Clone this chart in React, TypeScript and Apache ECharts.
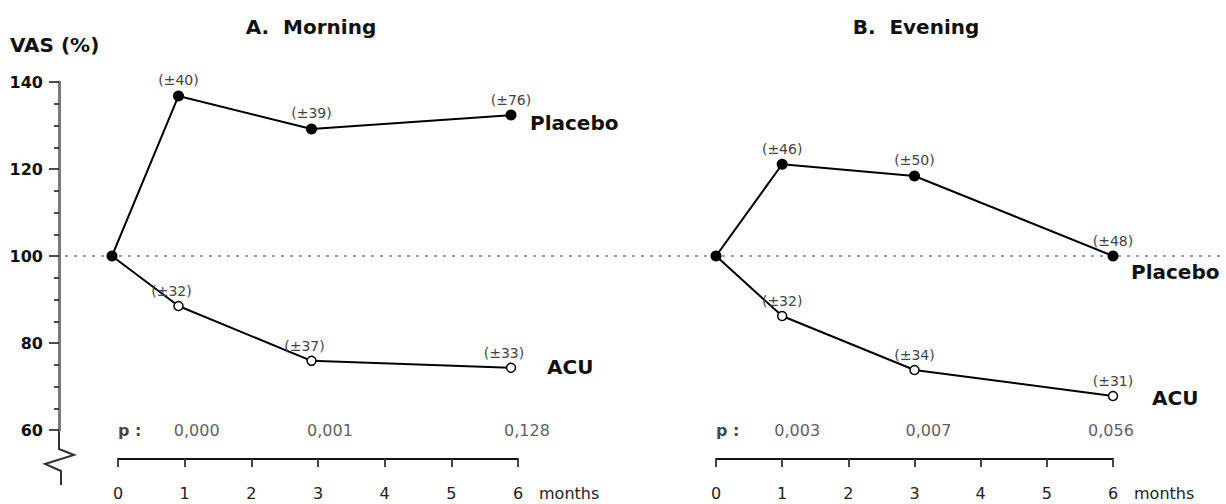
import React, { useEffect, useRef } from "react";
import * as echarts from "echarts";

// ---- data ----
const months = [0, 1, 3, 6];
const morningPlacebo = [100, 136.8, 129.2, 132.4];
const morningAcu = [100, 88.5, 75.9, 74.3];
const eveningPlacebo = [100, 121.1, 118.4, 100];
const eveningAcu = [100, 86.2, 73.8, 67.8];
const morningPlaceboSd = ["", "±40", "±39", "±76"];
const morningAcuSd = ["", "±32", "±37", "±33"];
const eveningPlaceboSd = ["", "±46", "±50", "±48"];
const eveningAcuSd = ["", "±32", "±34", "±31"];
const pMonths = [1, 3, 6];
const pMorning = ["0,000", "0,001", "0,128"];
const pEvening = ["0,003", "0,007", "0,056"];
const yMin = 60;
const yMax = 140;
const yStep = 20;
const xMin = 0;
const xMax = 6;
const referenceLevel = 100;

const FONT = "DejaVu Sans";

export default function App() {
  const ref = useRef<HTMLDivElement>(null);

  useEffect(() => {
    document.body.style.margin = "0";
    const chart = echarts.init(ref.current!, null, { renderer: "svg" });

    const gridTop = 82;
    const gridBottom = 74;

    const hiddenY = (gridIndex: number) => ({
      type: "value",
      gridIndex,
      min: yMin,
      max: yMax,
      interval: yStep,
      show: false,
    });

    const visibleX = (gridIndex: number) => ({
      type: "value",
      gridIndex,
      min: xMin,
      max: xMax,
      interval: 1,
      offset: 29,
      splitLine: { show: false },
      axisLine: { show: true, onZero: false, lineStyle: { color: "#111", width: 2 } },
      axisTick: { show: true, length: 8, lineStyle: { color: "#444", width: 2 } },
      axisLabel: { fontFamily: FONT, fontSize: 16, color: "#222", margin: 26 },
      name: "months",
      nameLocation: "end",
      nameGap: 21,
      nameTextStyle: {
        fontFamily: FONT,
        fontSize: 16,
        color: "#222",
        verticalAlign: "top",
        align: "left",
        padding: [26, 0, 0, 0],
      },
    });

    const sdLabel = (sd: string[], offset: number[]) => ({
      show: true,
      position: "top",
      distance: 3,
      offset,
      fontFamily: FONT,
      fontSize: 14,
      color: "#444",
      formatter: (p: any) => (sd[p.dataIndex] ? `(${sd[p.dataIndex]})` : ""),
    });

    const endLabel = (text: string, offset: number[]) => ({
      show: true,
      formatter: () => text,
      offset,
      fontFamily: FONT,
      fontSize: 20,
      fontWeight: "bold",
      color: "#111",
    });

    const placeboSeries = (
      xi: number,
      vals: number[],
      sd: string[],
      endOffset: number[]
    ) => ({
      type: "line",
      xAxisIndex: xi,
      yAxisIndex: xi,
      data: months.map((m, i) => [m, vals[i]]),
      symbol: "circle",
      symbolSize: 11,
      itemStyle: { color: "#000" },
      lineStyle: { color: "#000", width: 2 },
      label: sdLabel(sd, [0, 0]),
      endLabel: endLabel("Placebo", endOffset),
      z: 5,
    });

    const acuSeries = (
      xi: number,
      vals: number[],
      sd: string[],
      labelOffset: number[],
      endOffset: number[]
    ) => ({
      type: "line",
      xAxisIndex: xi,
      yAxisIndex: xi,
      data: months.map((m, i) =>
        i === 0 ? { value: [m, vals[i]], symbol: "none" } : [m, vals[i]]
      ),
      symbol: "circle",
      symbolSize: 9,
      itemStyle: { color: "#fff", borderColor: "#000", borderWidth: 1.5 },
      lineStyle: { color: "#000", width: 2 },
      label: sdLabel(sd, labelOffset),
      endLabel: endLabel("ACU", endOffset),
      z: 4,
    });

    const pSeries = (xi: number, labels: string[], offsets: number[]) => ({
      type: "scatter",
      xAxisIndex: xi,
      yAxisIndex: xi,
      symbolSize: 0,
      silent: true,
      data: [
        { value: [0, yMin], label: { formatter: "p :", fontWeight: "bold", color: "#111", align: "left", offset: [0, 0] } },
        ...pMonths.map((m, i) => ({
          value: [m, yMin],
          label: { formatter: labels[i], offset: [offsets[i], 0] },
        })),
      ],
      label: {
        show: true,
        position: "inside",
        fontFamily: FONT,
        fontSize: 16,
        color: "#333",
      },
    });

    const option: any = {
      animation: false,
      grid: [
        { left: 112, width: 399, top: gridTop, bottom: gridBottom },
        { left: 118, width: 400, top: gridTop, bottom: gridBottom },
        { left: 716, width: 397, top: gridTop, bottom: gridBottom },
        { left: 65, right: 6, top: gridTop, bottom: gridBottom },
      ],
      xAxis: [
        { type: "value", gridIndex: 0, min: xMin, max: xMax, show: false },
        visibleX(1),
        visibleX(2),
        { type: "value", gridIndex: 3, min: 0, max: 1, show: false },
      ],
      yAxis: [
        {
          type: "value",
          gridIndex: 0,
          min: yMin,
          max: yMax,
          interval: yStep,
          offset: 53,
          splitLine: { show: false },
          axisLine: { show: true, onZero: false, lineStyle: { color: "#7a7a7a", width: 3 } },
          axisTick: { show: true, length: 10, lineStyle: { color: "#111", width: 1.5 } },
          minorTick: { show: true, splitNumber: 4, length: 5, lineStyle: { color: "#111", width: 1.5 } },
          axisLabel: {
            fontFamily: FONT,
            fontSize: 16,
            fontWeight: "bold",
            color: "#111",
            margin: 16,
          },
        },
        hiddenY(1),
        hiddenY(2),
        hiddenY(3),
      ],
      series: [
        {
          type: "line",
          xAxisIndex: 3,
          yAxisIndex: 3,
          data: [
            [0, referenceLevel],
            [1, referenceLevel],
          ],
          symbol: "none",
          silent: true,
          lineStyle: { color: "#444", width: 1.2, type: [3, 6] },
          z: 1,
        },
        placeboSeries(0, morningPlacebo, morningPlaceboSd, [11, 8]),
        acuSeries(0, morningAcu, morningAcuSd, [-7, 0], [28, -1]),
        placeboSeries(2, eveningPlacebo, eveningPlaceboSd, [10, 16]),
        acuSeries(2, eveningAcu, eveningAcuSd, [0, 0], [31, 2]),
        pSeries(1, pMorning, [12, 12, 9]),
        pSeries(2, pEvening, [15, 14, -2]),
      ],
      graphic: [
        {
          type: "text",
          x: 10,
          y: 45,
          style: {
            text: "VAS (%)",
            fontFamily: FONT,
            fontSize: 20,
            fontWeight: "bold",
            fill: "#111",
            textVerticalAlign: "middle",
          },
        },
        {
          type: "text",
          x: 311,
          y: 27,
          style: {
            text: "A.  Morning",
            fontFamily: FONT,
            fontSize: 20,
            fontWeight: "bold",
            fill: "#111",
            textAlign: "center",
            textVerticalAlign: "middle",
          },
        },
        {
          type: "text",
          x: 916,
          y: 27,
          style: {
            text: "B.  Evening",
            fontFamily: FONT,
            fontSize: 20,
            fontWeight: "bold",
            fill: "#111",
            textAlign: "center",
            textVerticalAlign: "middle",
          },
        },
      ],
    };

    chart.setOption(option);

    // axis break (zigzag) below the y axis
    const y0 = chart.convertToPixel({ yAxisIndex: 0 }, yMin) as number;
    const ax = 59;
    chart.setOption({
      graphic: [
        ...option.graphic,
        {
          type: "polyline",
          shape: {
            points: [
              [ax, y0],
              [ax, y0 + 19],
              [ax + 15, y0 + 25],
              [ax - 14, y0 + 34],
              [ax + 2, y0 + 41],
              [ax + 2, y0 + 55],
            ],
          },
          style: { stroke: "#333", lineWidth: 2, fill: "none" },
        },
      ],
    });

    return () => chart.dispose();
  }, []);

  return <div ref={ref} style={{ width: 1226, height: 504 }} />;
}
